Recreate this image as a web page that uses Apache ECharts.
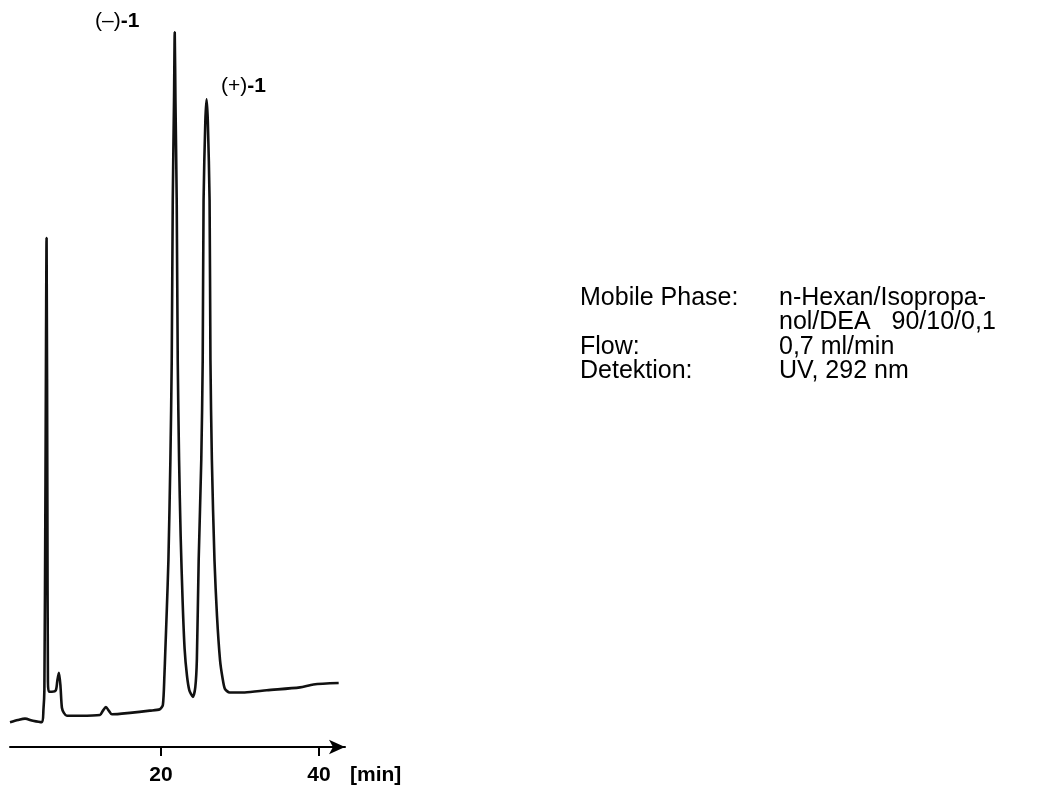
<!DOCTYPE html>
<html>
<head>
<meta charset="utf-8">
<script src="https://cdn.jsdelivr.net/npm/echarts@6/dist/echarts.min.js"></script>
<style>
html,body{margin:0;padding:0;background:#fff;}
#chart{width:1039px;height:789px;}
</style>
</head>
<body>
<div id="chart"></div>
<script>
// Retention time (min)
const times = [0.9, 1.9, 2.8, 3.8, 4.94, 5.13, 5.25, 5.38, 5.53, 5.63, 5.7, 5.82, 6.2, 6.7, 6.9, 7.09, 7.28, 7.47, 7.72, 8.1,
  9.75, 12.28, 12.66, 13.04, 13.4, 13.8, 16.08, 18.6, 19.87, 20.25, 20.45, 20.55, 20.75, 20.95, 21.2, 21.37, 21.5, 21.66, 21.75,
  21.84, 22.0, 22.13, 22.3, 22.5, 22.75, 23.0, 23.3, 23.6, 24.05, 24.35, 24.55, 24.78, 25.11, 25.29, 25.4, 25.62, 25.78,
  25.94, 26.16, 26.27, 26.45, 26.78, 27.1, 27.48, 27.8, 28.1, 28.7, 30.6, 33.4, 37.6, 39.3, 42.5];
// Detector signal (arbitrary units)
const signal = [34, 37, 39, 36, 34, 51, 78, 340, 700, 340, 90, 76, 76, 78, 92, 102, 85, 54, 47, 43,
  43, 44, 50, 55, 50, 45, 47, 50, 52, 58, 100, 130, 190, 257, 395, 532, 752, 890, 983,
  890, 752, 532, 395, 290, 200, 135, 98, 78, 69, 82, 120, 257, 395, 532, 752, 860, 891,
  860, 752, 532, 395, 257, 180, 120, 95, 80, 75, 75, 78, 82, 86, 88];
const tickValues = [20, 40];
const axisUnit = '[min]';
const peakNames = [{pre: '(–)', num: '-1'}, {pre: '(+)', num: '-1'}];
const infoLabels = ['Mobile Phase:', '', 'Flow:', 'Detektion:'];
const infoValues = ['n-Hexan/Isopropa-', 'nol/DEA   90/10/0,1', '0,7 ml/min', 'UV, 292 nm'];

const data = times.map((t, i) => [t, signal[i]]);
const FONT = 'Liberation Sans, Arial, Helvetica, sans-serif';

const chart = echarts.init(document.getElementById('chart'), null, {renderer: 'canvas'});

const graphics = [];
// peak labels
const peakPos = [[95, 21], [221, 86]];
peakNames.forEach((p, i) => {
  graphics.push({
    type: 'text', x: peakPos[i][0], y: peakPos[i][1],
    style: {
      text: '{a|' + p.pre + '}{b|' + p.num + '}',
      verticalAlign: 'middle',
      rich: {
        a: {fontSize: 21, fontFamily: FONT, fill: '#000', fontWeight: 'normal'},
        b: {fontSize: 21, fontFamily: FONT, fill: '#000', fontWeight: 'bold'}
      }
    }
  });
});
// axis unit
graphics.push({
  type: 'text', x: 350, y: 775,
  style: {text: axisUnit, fontSize: 21, fontWeight: 'bold', fontFamily: FONT, fill: '#000', verticalAlign: 'middle'}
});
// info block
infoLabels.forEach((lab, i) => {
  const y = 298 + i * 24.5;
  if (lab) graphics.push({type: 'text', x: 580, y: y, style: {text: lab, fontSize: 25, fontFamily: FONT, fill: '#000', verticalAlign: 'middle'}});
  graphics.push({type: 'text', x: 779, y: y, style: {text: infoValues[i], fontSize: 25, fontFamily: FONT, fill: '#000', verticalAlign: 'middle'}});
});

chart.setOption({
  animation: false,
  backgroundColor: '#fff',
  grid: {left: 10, right: 694, top: 20, bottom: 42, containLabel: false},
  xAxis: {
    type: 'value', min: 0.9, max: 43.3,
    splitLine: {show: false},
    axisLine: {show: true, symbol: ['none', 'arrow'], symbolSize: [11, 16], lineStyle: {color: '#000', width: 2}},
    axisTick: {show: true, customValues: tickValues, length: 9, inside: false, lineStyle: {color: '#000', width: 2}},
    axisLabel: {show: true, customValues: tickValues, fontSize: 21, fontWeight: 'bold', color: '#000', fontFamily: FONT, margin: 18}
  },
  yAxis: {type: 'value', min: 0, max: 1000, show: false},
  series: [{
    type: 'line', data: data, showSymbol: false, smooth: 0.25,
    lineStyle: {color: '#111', width: 2.6}
  }],
  graphic: graphics
});
</script>
</body>
</html>
